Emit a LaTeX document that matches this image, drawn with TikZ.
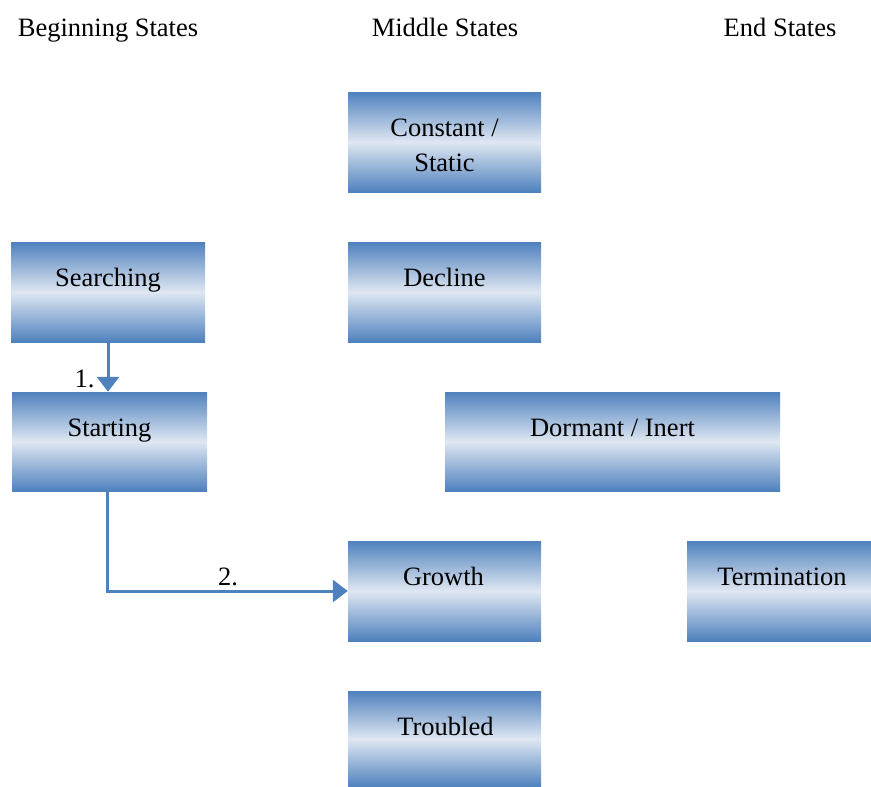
\documentclass[tikz,border=0pt]{standalone}
\usepackage{fontspec}
\setmainfont{Liberation Serif}
\usetikzlibrary{arrows.meta}
\definecolor{bxblue}{HTML}{4F81BD}
\definecolor{bxlight}{HTML}{DFE7F2}
\begin{document}
\begin{tikzpicture}[x=1pt,y=-1pt,
  stbox/.style={rectangle, inner sep=0pt, minimum height=100pt,
    top color=bxblue, bottom color=bxblue, middle color=bxlight},
  lbl/.style={font=\fontsize{26.5}{35}\selectfont, inner sep=0pt, align=center, anchor=base},
  flow/.style={draw=bxblue, line width=3pt, -{Triangle[length=15pt,width=22pt]}},
]
\useasboundingbox (0,0) rectangle (871,787);

% column headings
\node[lbl] (hbegin) at (108,36) {Beginning States};
\node[lbl] (hmiddle) at (445,36) {Middle States};
\node[lbl] (hend) at (780,36) {End States};

% state boxes
\node[stbox, minimum width=193pt] (constant) at (444.5,142) {};
\node[stbox, minimum width=194pt] (searching) at (108,292) {};
\node[stbox, minimum width=193pt] (decline) at (444.5,292) {};
\node[stbox, minimum width=195pt, minimum height=99pt] (starting) at (109.5,441.5) {};
\node[stbox, minimum width=335pt, minimum height=99pt] (dormant) at (612.5,441.5) {};
\node[stbox, minimum width=193pt] (growth) at (444.5,591) {};
\node[stbox, minimum width=184pt] (termination) at (779,591) {};
\node[stbox, minimum width=193pt, minimum height=96pt] (troubled) at (444.5,739) {};

% box captions
\node[lbl, anchor=center] (constant-t) at (444.5,145) {Constant /\\Static};
\node[lbl] (searching-t) at (108,286.5) {Searching};
\node[lbl] (decline-t) at (444.5,286.5) {Decline};
\node[lbl] (starting-t) at (109.5,436.5) {Starting};
\node[lbl] (dormant-t) at (612.5,436.5) {Dormant / Inert};
\node[lbl] (growth-t) at (443.5,585.5) {Growth};
\node[lbl] (termination-t) at (782,585.5) {Termination};
\node[lbl] (troubled-t) at (445.5,735) {Troubled};

% transitions
\draw[flow] (searching.south) -- (searching.south |- starting.north);
\node[lbl] (step1) at (84.5,387) {1.};

\coordinate (drop) at ([xshift=-2pt]starting.south);
\draw[flow] (drop) |- (growth.west);
\node[lbl] (step2) at (228,585) {2.};
\end{tikzpicture}
\end{document}
